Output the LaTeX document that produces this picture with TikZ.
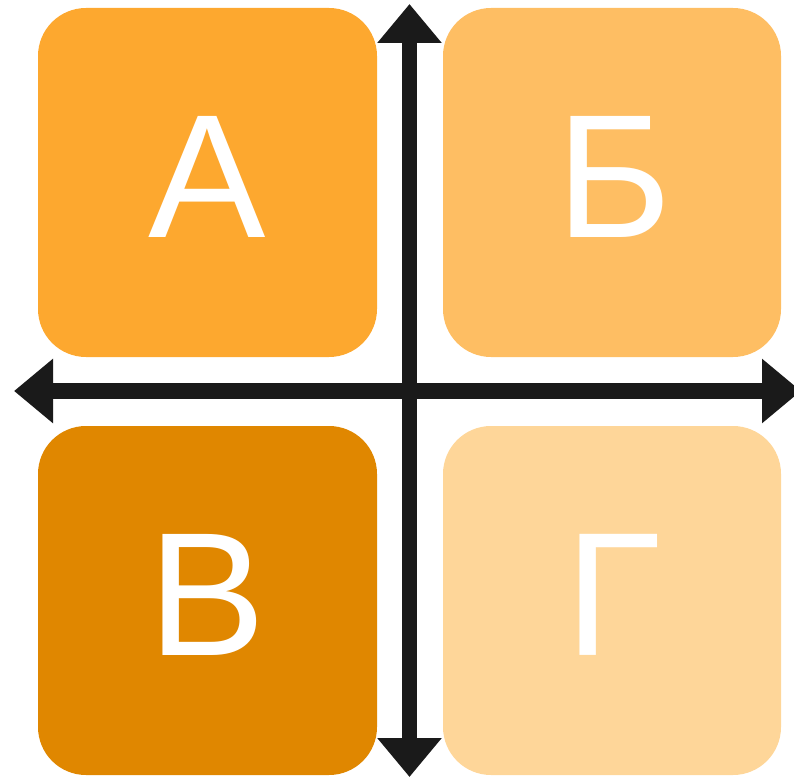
\documentclass[tikz,border=0pt]{standalone}
\usepackage{fontspec}
\newfontfamily\labfont{Liberation Sans}
\usetikzlibrary{arrows.meta}
\definecolor{cA}{RGB}{253,168,47}
\definecolor{cB}{RGB}{254,190,99}
\definecolor{cC}{RGB}{224,135,0}
\definecolor{cD}{RGB}{254,214,153}
\definecolor{axis}{RGB}{26,26,26}
\tikzset{
  quad/.style={rounded corners=48pt, draw=none},
  lab/.style={text=white, inner sep=0pt, anchor=base, font=\labfont\fontsize{176}{176}\selectfont},
  axisline/.style={draw=axis, line width=15.5pt, {Triangle[length=39pt,width=62pt]}-{Triangle[length=39pt,width=62pt]}}
}
\begin{document}
\begin{tikzpicture}[x=1pt,y=-1pt]
\useasboundingbox (0,0) rectangle (794,778);
\fill[quad, cA] (38,8) rectangle (377,357);
\fill[quad, cB] (443,8) rectangle (781,357);
\fill[quad, cC] (38,426) rectangle (377,775);
\fill[quad, cD] (443,426) rectangle (781,775);
\node[lab] (a) at (207.5,237) {А};
\node[lab] (b) at (614,237) {Б};
\node[lab] (c) at (207.5,655) {В};
\node[lab] (d) at (613,655) {Г};
\coordinate (top) at (409.5,4);
\coordinate (bot) at (409.5,777);
\coordinate (lft) at (14,391);
\coordinate (rgt) at (801,391);
\begin{scope}
\clip (0,0) rectangle (794,778);
\draw[axisline] (top) -- (bot);
\draw[axisline] (lft) -- (rgt);
\end{scope}
\end{tikzpicture}
\end{document}
